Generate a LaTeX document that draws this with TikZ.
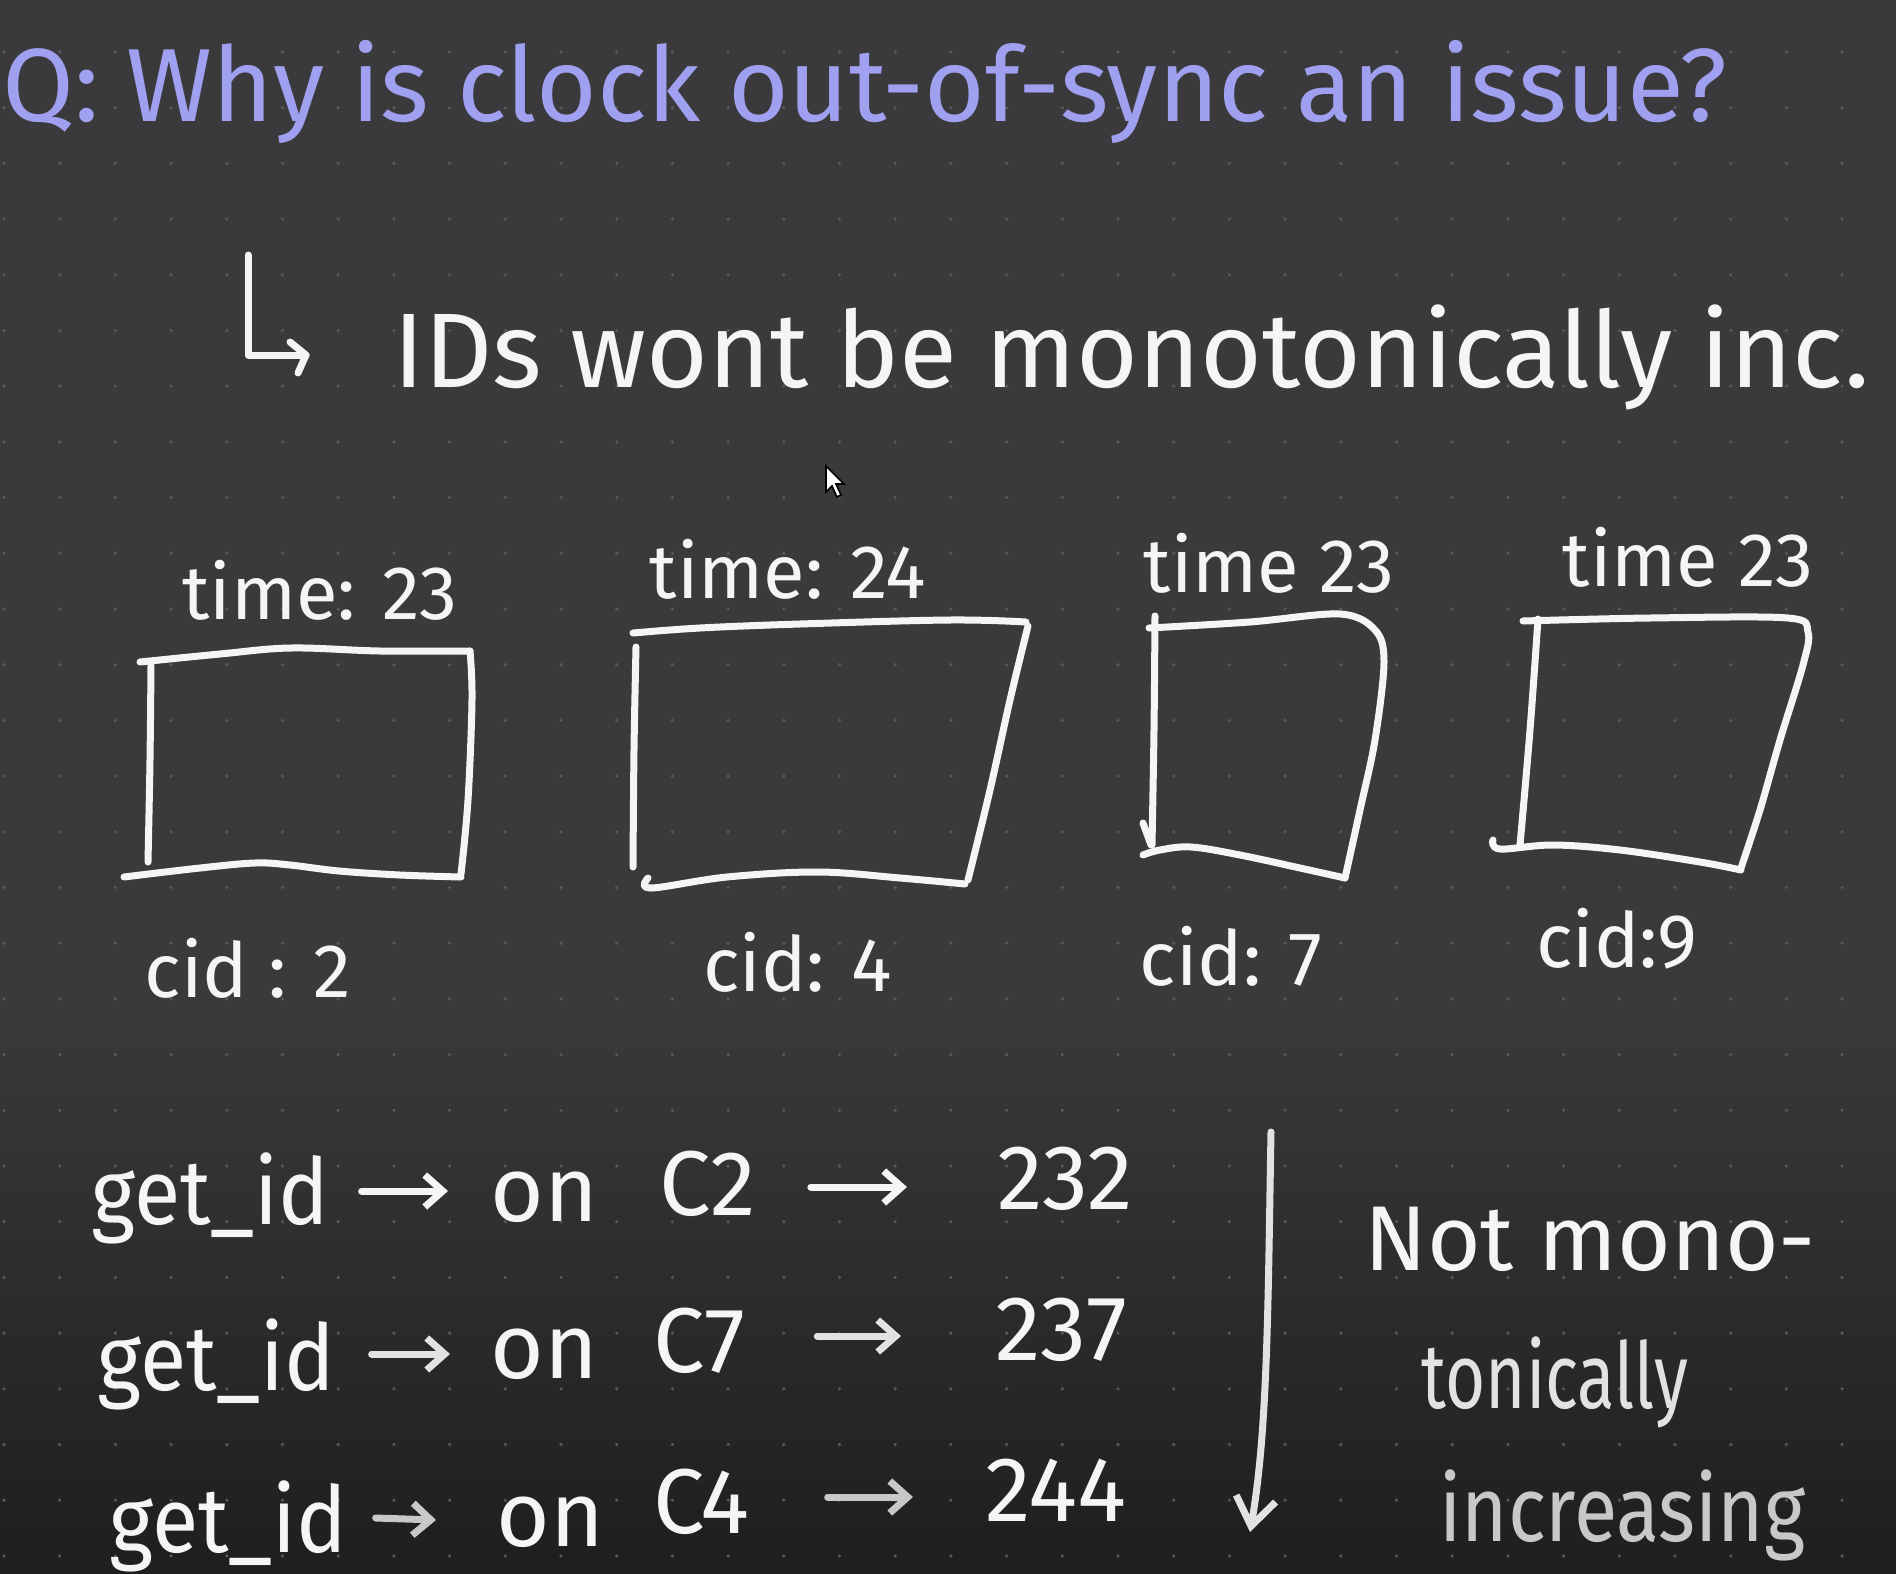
\documentclass[tikz,border=0pt]{standalone}
\usepackage{fontspec}
\usepackage{graphicx}
\setmainfont{Fira Sans}
\usetikzlibrary{arrows.meta}
\definecolor{bgc}{RGB}{58,57,60}
\definecolor{bgdark}{RGB}{30,30,31}
\definecolor{lav}{RGB}{160,160,240}
\definecolor{inkc}{RGB}{245,245,245}
\definecolor{inktwo}{RGB}{226,226,226}
\definecolor{inkthree}{RGB}{200,200,200}
\definecolor{dotc}{RGB}{88,88,90}
\begin{document}
\begin{tikzpicture}[x=0.5pt,y=-0.5pt,
  penline/.style={draw=inkc,line width=3.5pt,line cap=round,line join=round},
  handarrow/.style={penline,-{Straight Barb[length=9pt,width=16pt]}},
  txt/.style={inner sep=0pt,text=inkc},
  boxlbl/.style={txt,anchor=base,font=\fontsize{38}{42}\selectfont},
  rowtxt/.style={txt,anchor=base west,font=\fontsize{46}{50}\selectfont},
  sidetxt/.style={txt,anchor=base west,font=\fontsize{46}{50}\selectfont}
]
\useasboundingbox (0,0) rectangle (1896,1574);
\fill[bgc] (0,0) rectangle (1896,1574);
\shade[top color=bgc, bottom color=bgdark] (0,1000) rectangle (1896,1574);
\foreach \i in {0,...,34}{
  \foreach \j in {0,...,28}{
    \fill[dotc] (4+55.7*\i,52+55.7*\j) circle (0.9pt);
  }
}

% title
\node[txt,anchor=base west,text=lav,font=\fontsize{52}{57}\selectfont] (title) at (2,121) {Q: Why is clock out-of-sync an issue?};

% bent arrow + line 2
\coordinate (ba) at (248,255);
\coordinate (bb) at (248,355);
\coordinate (bc) at (306,355);
\draw[penline] (ba) -- (bb) -- (bc);
\draw[penline] (290,342) -- (bc) -- (298,373);
\node[txt,anchor=base west,font=\fontsize{53}{58}\selectfont] (ids) at (393,387) {IDs wont be monotonically inc.};

% mouse cursor
\filldraw[fill=white,draw=black,line width=0.8pt] (826,466) -- (826,492) -- (832,486) -- (837,497) -- (841,495) -- (836,484) -- (844,484) -- cycle;

% box 1
\draw[penline] plot[smooth,tension=0.6] coordinates {(140,662) (220,654) (291,648) (380,651) (470,651)};
\draw[penline] plot[smooth,tension=0.6] coordinates {(470,651) (472,700) (468,800) (461,874)};
\draw[penline] plot[smooth,tension=0.6] coordinates {(461,877) (400,875) (339,871) (290,865) (255,863) (200,868) (124,877)};
\draw[penline] plot[smooth,tension=0.6] coordinates {(151,666) (150,760) (148,862)};
\node[boxlbl] (t1) at (320,619) {time: 23};
\node[boxlbl] (c1) at (248,997) {cid : 2};

% box 2
\draw[penline] plot[smooth,tension=0.6] coordinates {(633,633) (700,628) (800,624) (950,620) (1026,622)};
\draw[penline] plot[smooth,tension=0.6] coordinates {(1028,626) (1010,700) (990,790) (968,880)};
\draw[penline] plot[smooth,tension=0.6] coordinates {(965,884) (900,878) (818,872) (727,877) (651,888) (648,878)};
\draw[penline] plot[smooth,tension=0.6] coordinates {(636,647) (634,750) (633,867)};
\node[boxlbl] (t2) at (788,598) {time: 24};
\node[boxlbl] (c2) at (798,991) {cid: 4};

% box 3
\draw[penline] plot[smooth,tension=0.55] coordinates {(1149,628) (1250,622) (1340,614) (1375,630) (1384,662) (1375,740) (1360,810) (1345,878)};
\draw[penline] plot[smooth,tension=0.6] coordinates {(1345,878) (1300,868) (1240,855) (1191,847) (1160,850) (1143,855)};
\draw[penline] plot[smooth,tension=0.6] coordinates {(1155,616) (1154,730) (1152,845)};
\draw[penline] (1143,823) -- (1151,845);
\node[boxlbl] (t3) at (1269,592) {time 23};
\node[boxlbl] (c3) at (1231,985) {cid: 7};

% box 4
\draw[penline] plot[smooth,tension=0.55] coordinates {(1523,621) (1650,618) (1788,618) (1808,632) (1803,665) (1780,740) (1760,810) (1741,868)};
\draw[penline] plot[smooth,tension=0.6] coordinates {(1741,870) (1700,862) (1620,850) (1553,845) (1500,849) (1493,840)};
\draw[penline] plot[smooth,tension=0.6] coordinates {(1538,619) (1530,730) (1520,845)};
\node[boxlbl] (t4) at (1688,586) {time 23};
\node[boxlbl] (c4) at (1617,967) {cid:9};

% row 1
\node[rowtxt] (g1) at (91,1224) {\scalebox{0.92}[1]{get\_id}};
\node[rowtxt] (on1) at (490,1221) {on};
\node[rowtxt] (cc1) at (659,1215) {C2};
\node[rowtxt] (v1) at (997,1209) {232};
\draw[handarrow] ([shift={(16pt,16.5pt)}]g1.base east) -- ([shift={(-21pt,15pt)}]on1.base west);
\draw[handarrow] ([shift={(27pt,14pt)}]cc1.base east) -- ([shift={(-45pt,11pt)}]v1.base west);

% row 2
\begin{scope}[every node/.append style={text=inktwo},penline/.append style={draw=inktwo}]
\node[rowtxt] (g2) at (97,1390) {\scalebox{0.92}[1]{get\_id}};
\node[rowtxt] (on2) at (490,1378) {on};
\node[rowtxt] (cc2) at (653,1372) {C7};
\node[rowtxt] (v2) at (995,1360) {237};
\draw[handarrow] ([shift={(18pt,18pt)}]g2.base east) -- ([shift={(-20pt,12pt)}]on2.base west);
\draw[handarrow] ([shift={(36pt,18pt)}]cc2.base east) -- ([shift={(-47pt,12pt)}]v2.base west);
\end{scope}

% row 3
\begin{scope}[every node/.append style={text=inkthree},penline/.append style={draw=inkthree}]
\node[rowtxt] (g3) at (109,1552) {\scalebox{0.92}[1]{get\_id}};
\node[rowtxt] (on3) at (496,1546) {on};
\node[rowtxt] (cc3) at (653,1533) {C4};
\node[rowtxt] (v3) at (985,1521) {244};
\draw[handarrow] ([shift={(14pt,17pt)}]g3.base east) -- ([shift={(-30pt,13pt)}]on3.base west);
\draw[handarrow] ([shift={(39pt,18pt)}]cc3.base east) -- ([shift={(-36pt,12pt)}]v3.base west);
\end{scope}

% vertical arrow and side note
\coordinate (vtop) at (1271,1132);
\coordinate (vbot) at (1250,1532);
\draw[penline,draw=inktwo,-{Straight Barb[length=14pt,width=20pt]}] (vtop) .. controls (1268,1300) and (1268,1430) .. (vbot);
\node[sidetxt] (n1) at (1364,1270) {Not mono-};
\node[sidetxt,text=inktwo] (n2) at (1421,1408) {\scalebox{0.75}[1]{tonically}};
\node[sidetxt,text=inkthree] (n3) at (1439,1541) {\scalebox{0.86}[1]{increasing}};
\end{tikzpicture}
\end{document}
